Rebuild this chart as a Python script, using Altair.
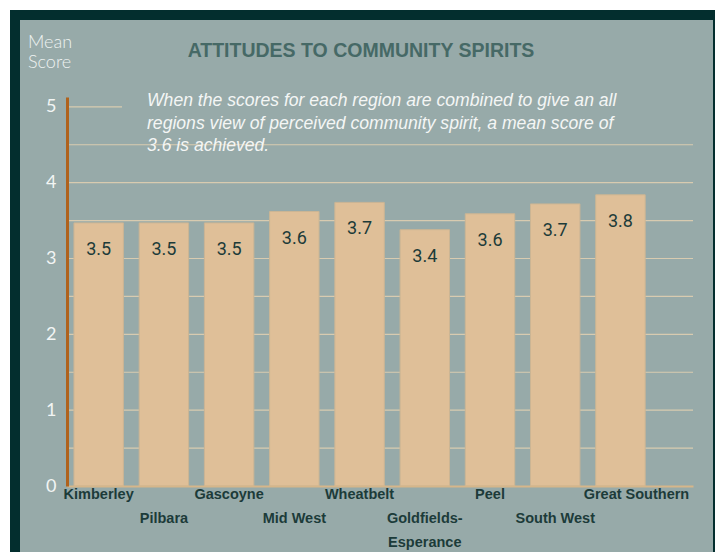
import altair as alt
import pandas as pd

regions = ["Kimberley", "Pilbara", "Gascoyne", "Mid West", "Wheatbelt",
           "Goldfields-Esperance", "Peel", "South West", "Great Southern"]
scores = [3.47, 3.47, 3.47, 3.62, 3.74, 3.38, 3.59, 3.72, 3.84]
score_labels = ["3.5", "3.5", "3.5", "3.6", "3.7", "3.4", "3.6", "3.7", "3.8"]
label_lines = [["Kimberley"], ["", "Pilbara"], ["Gascoyne"], ["", "Mid West"],
               ["Wheatbelt"], ["", "Goldfields-", "Esperance"], ["Peel"],
               ["", "South West"], ["Great Southern"]]
grid_values = [0.5, 1, 1.5, 2, 2.5, 3, 3.5, 4, 4.5]
y_ticks = [0, 1, 2, 3, 4, 5]

title_text = "ATTITUDES TO COMMUNITY SPIRITS"
note_lines = ["When the scores for each region are combined to give an all",
              "regions view of perceived community spirit, a mean score of",
              "3.6 is achieved."]

W, H = 626, 389
DARK = "#032e2e"
PANEL = "#97aaa9"
BAR = "#dfbf98"
GRID = "#d8cbb0"
TXT = "#1c3b39"
SANS = "Liberation Sans, Arial, sans-serif"

df = pd.DataFrame({"region": regions, "score": scores, "label": score_labels,
                   "lines": label_lines})
df["group"] = ["main"] * 8 + ["shift"]

xscale = alt.Scale(domain=regions, paddingInner=0.242, paddingOuter=0.42, align=0.127)
yscale = alt.Scale(domain=[0, 5.13], nice=False)

x_axis = alt.Axis(title=None, labels=False, ticks=False, domain=True,
                  domainColor="#d6b68a", domainWidth=2, grid=False, zindex=1)
y_axis = alt.Axis(title=None, values=y_ticks, format="d", ticks=False, grid=False,
                  domainColor="#b0621c", domainWidth=3,
                  labelColor="#f2f5f4", labelFontSize=18, labelFont="Lato",
                  labelPadding=11, zindex=1)

one = pd.DataFrame({"k": [0]})

dark_rect = alt.Chart(one).mark_rect(color=DARK).encode(
    x=alt.value(-57), x2=alt.value(656), y=alt.value(-87), y2=alt.value(463))
panel_rect = alt.Chart(one).mark_rect(color=PANEL).encode(
    x=alt.value(-47), x2=alt.value(646), y=alt.value(-77), y2=alt.value(459))

grid = alt.Chart(pd.DataFrame({"v": grid_values})).mark_rule(
    color=GRID, strokeWidth=1.2).encode(y=alt.Y("v:Q", scale=yscale, axis=y_axis))
grid5 = alt.Chart(pd.DataFrame({"v": [5]})).mark_rule(
    color=GRID, strokeWidth=1.2).encode(
    y=alt.Y("v:Q", scale=yscale), x=alt.value(1), x2=alt.value(55))

bars = alt.Chart(df).mark_bar(color=BAR, stroke="#cbb594", strokeWidth=1).encode(
    x=alt.X("region:N", scale=xscale, sort=regions, axis=x_axis),
    y=alt.Y("score:Q", scale=yscale))

vals = alt.Chart(df).mark_text(baseline="middle", dy=27, fontSize=18,
                               font="Roboto", color=TXT).encode(
    x=alt.X("region:N", scale=xscale, sort=regions),
    y=alt.Y("score:Q", scale=yscale), text="label:N")

xlab_main = alt.Chart(df).transform_filter("datum.group == 'main'").mark_text(
    baseline="top", dy=2, fontSize=14.5, font=SANS, fontWeight="bold",
    lineHeight=24, color=TXT).encode(
    x=alt.X("region:N", scale=xscale, sort=regions),
    y=alt.datum(0, scale=yscale), text="lines")
xlab_shift = alt.Chart(df).transform_filter("datum.group == 'shift'").mark_text(
    baseline="top", dy=2, dx=16, fontSize=14.5, font=SANS, fontWeight="bold",
    lineHeight=24, color=TXT).encode(
    x=alt.X("region:N", scale=xscale, sort=regions),
    y=alt.datum(0, scale=yscale), text="lines")

title = alt.Chart(one).mark_text(text=title_text, fontSize=19.5, font=SANS,
                                 fontWeight="bold", color="#466966",
                                 baseline="middle", align="center").encode(
    x=alt.value(294), y=alt.value(-46))
mean_score = alt.Chart(one).mark_text(text=["Mean", "Score"], fontSize=18,
                                      font="Lato", fontWeight=300, color="#eef2f1",
                                      baseline="middle", align="left",
                                      lineHeight=20).encode(
    x=alt.value(-39), y=alt.value(-54))
note = alt.Chart(one).mark_text(text=note_lines, fontSize=17.6, font=SANS,
                                fontStyle="italic", color="#f4f6f5",
                                baseline="middle", align="left",
                                lineHeight=22.5).encode(
    x=alt.value(80), y=alt.value(4))

chart = alt.layer(dark_rect, panel_rect, grid, grid5, bars, vals, xlab_main,
                  xlab_shift, title, mean_score, note).properties(
    width=W, height=H,
    padding={"left": 59, "top": 89, "right": 22, "bottom": 66},
    autosize=alt.AutoSizeParams(type="none"),
    background="white",
).configure_view(stroke=None)

chart.save("out.html", embed_options={"renderer": "svg", "actions": False})
